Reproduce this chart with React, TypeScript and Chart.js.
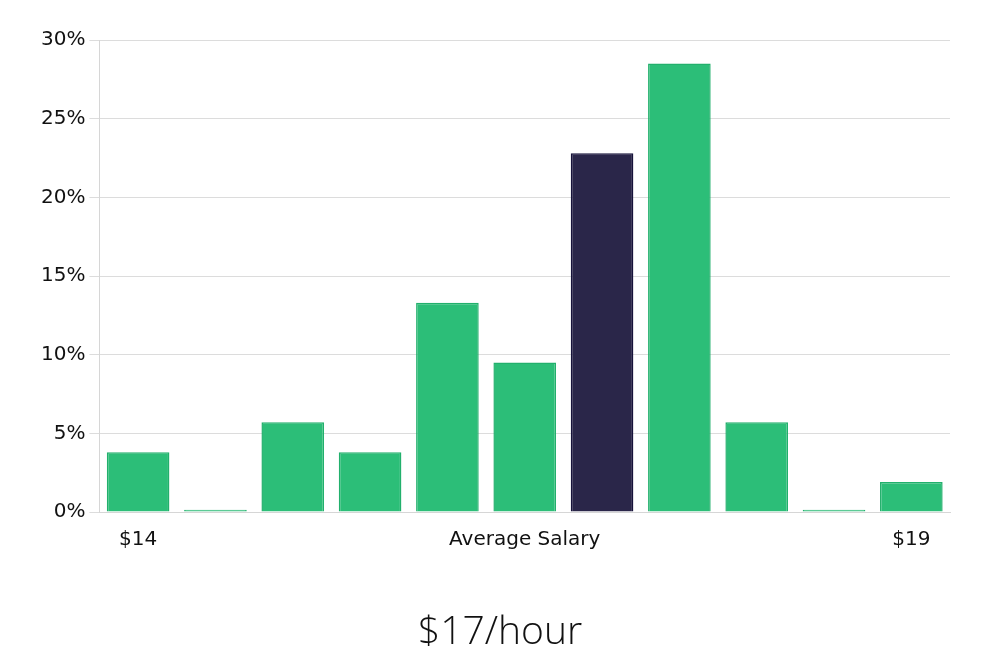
import React, { useEffect, useRef } from "react";
import { Chart, registerables } from "chart.js";

Chart.register(...registerables);

const categories = ["$14", "", "", "", "", "Average Salary", "", "", "", "", "$19"];
const shares = [3.8, 0.15, 5.7, 3.8, 13.3, 9.5, 22.8, 28.5, 5.7, 0.15, 1.9];
const highlightIndex = 6;
const yTicks = [0, 5, 10, 15, 20, 25, 30];
const titleText = "$17/hour";

const GREEN = "#2cbe78";
const GREEN_BORDER = "#22b06c";
const DARK = "#2a2649";
const DARK_BORDER = "#16123a";

export default function App() {
  const ref = useRef<HTMLCanvasElement | null>(null);
  useEffect(() => {
    if (!ref.current) return;
    const chart = new Chart(ref.current, {
      type: "bar",
      data: {
        labels: categories,
        datasets: [
          {
            data: shares,
            backgroundColor: shares.map((_, i) => (i === highlightIndex ? DARK : GREEN)),
            borderColor: shares.map((_, i) => (i === highlightIndex ? DARK_BORDER : GREEN_BORDER)),
            borderWidth: 1.5,
            barPercentage: 0.81,
            categoryPercentage: 1,
          },
        ],
      },
      options: {
        animation: false,
        responsive: true,
        maintainAspectRatio: false,
        layout: { padding: { left: 29, right: 29, top: 32, bottom: 0 } },
        plugins: {
          legend: { display: false },
          tooltip: { enabled: false },
          title: {
            display: true,
            text: titleText,
            position: "bottom",
            color: "#111",
            font: { family: "'Open Sans', sans-serif", size: 39, weight: "300" as any, lineHeight: 1.0 },
            padding: { top: 45, bottom: 0 },
          },
        },
        scales: {
          x: {
            grid: { display: false, drawTicks: false },
            border: { display: true, color: "#d6d6d6" },
            ticks: {
              autoSkip: false,
              maxRotation: 0,
              color: "#111",
              padding: 16,
              font: { family: "'DejaVu Sans', sans-serif", size: 20 },
            },
          },
          y: {
            min: 0,
            max: 30,
            afterBuildTicks: (axis: any) => {
              axis.ticks = yTicks.map((v) => ({ value: v }));
            },
            grid: { color: "#dcdcdc", tickLength: 10, drawTicks: true },
            border: { display: true, color: "#d6d6d6" },
            ticks: {
              color: "#111",
              padding: 4,
              font: { family: "'DejaVu Sans', sans-serif", size: 20 },
              callback: (v: any) => `${v}%`,
            },
          },
          yr: {
            type: "linear",
            position: "right",
            display: true,
            min: 0,
            max: 30,
            grid: { display: false, drawTicks: false },
            border: { display: false },
            ticks: { display: false },
            afterFit: (s: any) => {
              s.width = 13;
            },
          },
        },
      },
    });
    return () => chart.destroy();
  }, []);
  return (
    <div style={{ width: 984, height: 644, position: "relative" }}>
      <canvas ref={ref} />
    </div>
  );
}
